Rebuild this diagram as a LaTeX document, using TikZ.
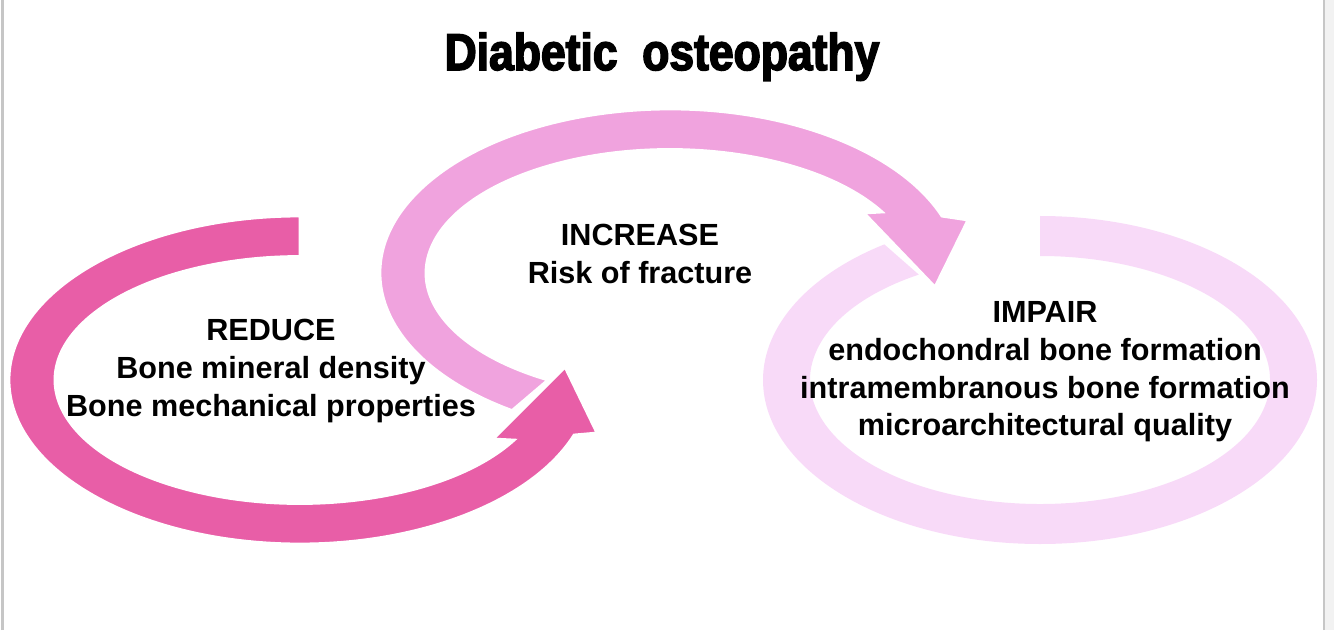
\documentclass[tikz,border=0pt]{standalone}
\usepackage{fontspec}
\setmainfont{Liberation Sans}
\newfontfamily\titlefont[FakeStretch=0.86,FakeBold=3]{Liberation Sans}
\definecolor{reducepink}{RGB}{232,94,167}
\definecolor{increasepink}{RGB}{240,163,222}
\definecolor{impairpink}{RGB}{248,218,248}
\tikzstyle{band} = [draw=white, line width=0.8pt, line join=miter]
\tikzstyle{textblock} = [align=center, font=\fontsize{8.7}{10.7}\selectfont\bfseries]
\tikzstyle{heading} = [font=\titlefont\bfseries\fontsize{14.7}{16}\selectfont]

\begin{document}
\begin{tikzpicture}[x=0.01cm, y=0.01cm]
        \useasboundingbox (0,0) rectangle (1334,630);
        \fill[gray!10] (1324,0) rectangle (1334,630);
        \draw[gray!45, line width=0.6pt] (1324,0) -- (1324,630);
        \draw[gray!45, line width=0.6pt] (2.5,0) -- (2.5,630);

        \fill[impairpink] (1040,250) ++(90:277 and 164) arc[start angle=90, end angle=-235.8, x radius=277, y radius=164]
            -- ([shift={(1040,250)}]121.8:230 and 124) arc[start angle=-238.2, end angle=90, x radius=230, y radius=124] -- cycle;
        \filldraw[band, fill=increasepink] (670,357) ++(237:290 and 164) arc[start angle=237, end angle=20.3, x radius=290, y radius=164]
            -- (968,410) -- (935,343) -- (864,417)
            -- ([shift={(670,357)}]29.6:244 and 123.5) arc[start angle=29.6, end angle=240, x radius=244, y radius=123.5] -- cycle;
        \filldraw[band, fill=reducepink] (300,250) ++(90:291 and 164) arc[start angle=90, end angle=340.4, x radius=291, y radius=164]
            -- (597,197) -- (565,263) -- (493,191)
            -- ([shift={(300,250)}]330.9:245 and 123.5) arc[start angle=330.9, end angle=90, x radius=245, y radius=123.5] -- cycle;

        \node[heading, anchor=base] (title) at (662,560) {Diabetic~~osteopathy};
        \node[textblock] (reduce) at (271,259) {REDUCE\\Bone mineral density\\Bone mechanical properties};
        \node[textblock] (increase) at (640,376) {INCREASE\\Risk of fracture};
        \node[textblock] (impair) at (1045,258) {IMPAIR\\endochondral bone formation\\intramembranous bone formation\\microarchitectural quality};
    \end{tikzpicture}
\end{document}
